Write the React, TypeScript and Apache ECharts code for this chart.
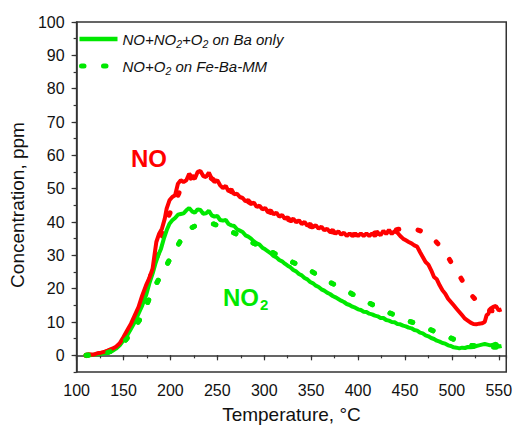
import React, { useEffect, useRef } from "react";
import * as echarts from "echarts";

const FONT = "Liberation Sans";
const RED = "#ff0000";
const GREEN = "#00e800";

const xMajorTicks = [100, 150, 200, 250, 300, 350, 400, 450, 500, 550];
const yMajorTicks = [0, 10, 20, 30, 40, 50, 60, 70, 80, 90, 100];

const legendNames = ["NO+NO2+O2 on Ba only", "NO+O2 on Fe-Ba-MM"];

// NO, NO+NO2+O2 on Ba only (red solid)
const noBaOnly: number[][] = [
  [110,0.0],[114,0.3],[118,0.2],[122,0.6],[126,0.8],[130,1.1],[134,1.5],[138,2.0],[142,2.6],[146,3.6],[150,5.5],[154,7.5],[158,9.5],[162,12],[166,14.5],[170,18],[174,21],[178,23.5],[181,26],[183,30],[185,34],[188,36.5],[191,38],[194,41],[196,44],[199,46.5],[202,47.5],[205,48],[208,51.5],[211,52.5],[214,52],[217,52.5],[220,54.5],[223,53.5],[226,53],[229,55],[232,55.3],[235,53.8],[238,53.5],[241,54.8],[244,53],[247,52],[250,52.5],[253,51],[256,50.2],[259,50.8],[262,49.2],[265,49.8],[268,48.3],[271,48.5],[274,47.5],[277,47.2],[280,46.2],[283,46.6],[286,45.4],[289,45.8],[292,44.5],[295,44.9],[298,43.8],[301,44.2],[304,43],[307,43.5],[310,42.3],[313,42.8],[316,41.6],[319,42.1],[322,41],[325,41.4],[328,40.4],[331,41],[334,39.9],[337,40.5],[340,39.4],[343,40],[346,38.9],[349,39.5],[352,38.5],[355,39],[358,38],[361,38.6],[364,37.5],[367,38],[370,37],[373,37.6],[376,36.5],[379,37.2],[382,36.2],[385,36.8],[388,35.8],[391,36.6],[394,35.8],[397,36.6],[400,35.8],[403,36.6],[406,35.8],[409,36.6],[412,35.8],[415,36.6],[418,35.8],[421,36.8],[424,36],[427,37.4],[430,36.4],[433,37.6],[436,36.4],[439,37.3],[442,36.8],[445,35.8],[448,35],[451,34.5],[454,34],[457,33.6],[460,33],[463,32.6],[466,31],[469,29.5],[472,28],[475,27.2],[478,25.5],[481,23.5],[484,22.8],[487,21],[490,19.5],[493,18.5],[496,17],[499,16],[502,15],[505,14],[508,13],[511,12],[514,11],[517,10.4],[520,9.8],[523,9.4],[526,9.3],[529,9.5],[532,9.6],[535,10],[537,12],[539,12.5],[541,14],[544,14.5],[547,14.8],[550,13.5],[553,13.8]
];

// NO2, NO+NO2+O2 on Ba only (green solid)
const no2BaOnly: number[][] = [
  [110,-0.3],[114,0],[118,0.2],[122,0.3],[126,0.5],[130,0.6],[134,0.8],[138,1.3],[142,2],[146,3],[150,4.5],[154,6],[158,8],[162,10],[166,12.5],[170,15],[174,18],[178,22],[181,24.5],[184,27.5],[187,30],[190,32],[193,35],[196,37.5],[199,39.5],[202,40.5],[205,41.2],[208,42.2],[211,42.4],[214,42.6],[217,43.5],[220,44.2],[223,43.2],[226,42.8],[229,43.8],[232,43.6],[235,42.5],[238,42.6],[241,43.4],[244,42],[247,41.6],[250,41.8],[253,40.6],[256,40.4],[259,40.6],[262,39.4],[265,39],[268,38.8],[271,37.8],[274,37.4],[277,37],[280,36],[283,35.6],[286,35],[289,34.2],[292,33.6],[295,33.2],[298,32.3],[301,31.8],[304,31.2],[307,30.6],[310,29.8],[313,29.4],[316,28.6],[319,28.2],[322,27.5],[325,26.9],[328,26.4],[331,25.6],[334,25.2],[337,24.4],[340,24],[343,23.2],[346,22.8],[349,22],[352,21.6],[355,20.9],[358,20.5],[361,19.8],[364,19.4],[367,18.8],[370,18.4],[373,17.8],[376,17.4],[379,16.9],[382,16.4],[385,16],[388,15.4],[391,15.1],[394,14.6],[397,14.3],[400,13.8],[403,13.6],[406,13.1],[409,13],[412,12.5],[415,12.3],[418,11.9],[421,11.7],[424,11.2],[427,11.2],[430,10.6],[433,10.4],[436,10],[439,9.9],[442,9.4],[445,9.3],[448,8.9],[451,8.7],[454,8.3],[457,8.1],[460,7.6],[463,7.4],[466,6.8],[469,6.6],[472,6],[475,5.7],[478,5.2],[481,4.9],[484,4.4],[487,4.1],[490,3.7],[493,3.5],[496,3],[499,2.8],[502,2.4],[505,2.3],[508,2.1],[511,2.3],[514,2.2],[517,2.5],[520,2.4],[523,2.5],[526,2.8],[529,3],[532,3.2],[535,3.4],[538,3.2],[541,3],[544,3.2],[547,3.5],[550,2.6],[553,2.8]
];

// NO, NO+O2 on Fe-Ba-MM (red dotted)
const noFeBaMM: number[][] = [
  [110,0],[118,0.3],[126,0.7],[132,1.1],[138,1.8],[144,2.8],[149,4],[153,5.2],[158,8],[163,11.5],[168,15],[174,18.5],[177,21.5],[180,25.4],[184,28.5],[188.6,31.4],[191,35],[193,38.5],[196,40.5],[200,43],[204.7,45.4],[208,48],[212,50.5],[216,52],[221,53],[226,53.8],[232,54.3],[238,54],[244,53],[250,52],[256,50.8],[262,49.6],[268,48.6],[274,47.6],[280,46.6],[286,45.6],[292,44.8],[298,44],[304,43.2],[310,42.5],[316,41.8],[322,41.1],[328,40.5],[334,40],[340,39.5],[346,39],[352,38.5],[358,38],[364,37.6],[370,37.2],[376,36.8],[382,36.5],[388,36.3],[394,36.2],[400,36.2],[406,36.3],[412,36.5],[418,36.7],[424,37],[432,37.4],[438,37.6],[443,37.8],[449,38],[454,38.2],[460,37.9],[465,37.5],[471,36.8],[476,36],[481,34.8],[485,33.5],[489,32.2],[493,30.7],[497,29],[500,27.5],[504,25.8],[507,24.5],[511,22.5],[514,21],[518,19.3],[521,18],[526,16.5],[530,15.5],[535,14.3],[539,13.5],[544,13.3],[548,13.5],[552,13.8]
];

// NO2, NO+O2 on Fe-Ba-MM (green dotted)
const no2FeBaMM: number[][] = [
  [110,0],[118,0.2],[126,0.5],[132,0.8],[138,1.3],[144,2.3],[150,3.8],[155,5.5],[160,7.5],[164,9.3],[168,11],[172,13.5],[176,16],[179,18],[183,20.5],[187,22.5],[190,24],[195,26.5],[200,29.2],[203,30.7],[207,32.5],[211,34.5],[215,36.2],[218,37.4],[222,38.2],[227,38.9],[232,39.3],[237,39.6],[240,39.7],[245,39.5],[250,39],[256,38.3],[262,37.5],[268,36.7],[274,35.9],[280,35],[286,34],[292,33.2],[296,32.7],[301,32],[307,31.1],[313,30.3],[320,29.3],[326,28.5],[332,27.7],[337,27],[343,26.2],[348.5,25.5],[354,24.6],[359,23.8],[364,22.9],[369.5,22],[375,21.2],[380,20.5],[385,19.7],[390,19],[395,18.2],[400,17.5],[405,16.7],[411,15.8],[417,15],[422,14.3],[428,13.5],[433,12.8],[439,12.1],[444,11.5],[450,10.8],[455,10.2],[461,9.6],[466,9],[471,8.4],[476.6,7.8],[482,7.1],[487,6.5],[493,5.9],[498,5.3],[504,4.6],[509,4],[515,3.4],[520,3],[526,2.8],[532,2.7],[538,2.6],[544,2.5],[550,2.5],[553,2.6]
];

const X_MIN = 100, X_MAX = 558, Y_MIN = -5, Y_MAX = 100;

export default function App() {
  const ref = useRef<HTMLDivElement>(null);
  useEffect(() => {
    if (!ref.current) return;
    const chart = echarts.init(ref.current, null, { renderer: "svg" });
    const axisColor = "#333";
    const dotted = { type: [2.5, 19.5] as any, width: 5, cap: "round" as const };
    chart.setOption({
      animation: false,
      backgroundColor: "#fff",
      textStyle: { fontFamily: FONT },
      grid: {
        left: 71, right: 6, top: 22, bottom: 56,
        show: true, borderColor: axisColor, borderWidth: 1.5,
        backgroundColor: "transparent",
      },
      legend: {
        data: [
          { name: legendNames[0], lineStyle: { color: GREEN, width: 4.5, type: "solid" } },
          { name: legendNames[1], lineStyle: { color: GREEN, width: 5, type: [2.5, 19.5], cap: "round", dashOffset: -2 } },
        ],
        orient: "vertical",
        left: 72, top: 24,
        itemWidth: 38, itemHeight: 14, itemGap: 7,
        itemStyle: { opacity: 0 },
        formatter: (name: string) =>
          name === legendNames[0]
            ? "{n|NO+NO}{s|2}{n|+O}{s|2}{n| on Ba only}"
            : "{n|NO+O}{s|2}{n| on Fe-Ba-MM}",
        textStyle: {
          fontFamily: FONT, fontStyle: "italic", fontSize: 15, color: "#111",
          rich: {
            n: { fontFamily: FONT, fontStyle: "italic", fontSize: 15, color: "#111", lineHeight: 18 },
            s: { fontFamily: FONT, fontStyle: "italic", fontSize: 10.5, color: "#111", lineHeight: 18, padding: [9, 0, 0, 0] },
          },
        },
      },
      xAxis: [
        {
          type: "value", min: X_MIN, max: X_MAX, position: "bottom",
          name: "Temperature, °C", nameLocation: "middle", nameGap: 33,
          nameTextStyle: { fontFamily: FONT, fontSize: 19, color: "#111" },
          axisLine: { show: true, lineStyle: { color: axisColor, width: 1.5 } },
          axisTick: { show: true, length: 5, customValues: xMajorTicks, lineStyle: { color: axisColor, width: 1.2 } },
          axisLabel: { show: true, customValues: xMajorTicks, fontFamily: FONT, fontSize: 16, color: "#111", margin: 10 },
          splitLine: { show: false },
        },
        {
          type: "value", min: X_MIN, max: X_MAX, interval: 25, position: "bottom",
          axisLine: { show: false },
          axisTick: { show: true, length: 3, lineStyle: { color: axisColor, width: 1.2 } },
          axisLabel: { show: false },
          splitLine: { show: false },
        },
      ],
      yAxis: [
        {
          type: "value", min: Y_MIN, max: Y_MAX, position: "left",
          name: "Concentration, ppm", nameLocation: "middle", nameGap: 40,
          nameTextStyle: { fontFamily: FONT, fontSize: 19, color: "#111", padding: [0, 16, 0, 0] },
          axisLine: { show: true, lineStyle: { color: axisColor, width: 1.5 } },
          axisTick: { show: true, length: 5, customValues: yMajorTicks, lineStyle: { color: axisColor, width: 1.2 } },
          axisLabel: { show: true, customValues: yMajorTicks, fontFamily: FONT, fontSize: 16, color: "#111", margin: 12 },
          splitLine: { show: false },
        },
        {
          type: "value", min: Y_MIN, max: Y_MAX, interval: 5, position: "left", offset: 0,
          axisLine: { show: false },
          axisTick: { show: true, length: 3, lineStyle: { color: axisColor, width: 1.2 } },
          axisLabel: { show: false },
          splitLine: { show: false },
        },
      ],
      series: [
        {
          name: "NO2 Fe-Ba-MM dotted", type: "line", data: no2FeBaMM, showSymbol: false, symbol: "none",
          lineStyle: { color: GREEN, ...dotted }, itemStyle: { color: GREEN },
        },
        {
          name: "NO Fe-Ba-MM dotted", type: "line", data: noFeBaMM, showSymbol: false, symbol: "none",
          lineStyle: { color: RED, ...dotted }, itemStyle: { color: RED },
        },
        {
          name: legendNames[0], type: "line", data: no2BaOnly, showSymbol: false, symbol: "none",
          lineStyle: { color: GREEN, width: 4 }, itemStyle: { color: GREEN },
        },
        {
          name: "NO Ba only", type: "line", data: noBaOnly, showSymbol: false, symbol: "none",
          lineStyle: { color: RED, width: 4 }, itemStyle: { color: RED },
        },
        {
          name: legendNames[1], type: "line", data: no2FeBaMM, showSymbol: false, symbol: "none",
          lineStyle: { color: GREEN, ...dotted }, itemStyle: { color: GREEN },
        },
      ],
      graphic: [
        {
          type: "text", x: 131, y: 158,
          style: { text: "NO", fill: RED, font: `bold 24px "${FONT}"`, verticalAlign: "middle" },
        },
        {
          type: "text", x: 223, y: 297,
          style: {
            text: "{a|NO}{b|2}", verticalAlign: "middle",
            rich: {
              a: { fill: GREEN, fontFamily: FONT, fontWeight: "bold", fontSize: 24, lineHeight: 26 },
              b: { fill: GREEN, fontFamily: FONT, fontWeight: "bold", fontSize: 15, lineHeight: 26, padding: [14, 0, 0, 1] },
            },
          },
        },
      ],
    });
    return () => chart.dispose();
  }, []);
  return (
    <div
      ref={ref}
      style={{ position: "absolute", left: 0, top: 0, width: 515, height: 429, background: "#fff" }}
    />
  );
}
